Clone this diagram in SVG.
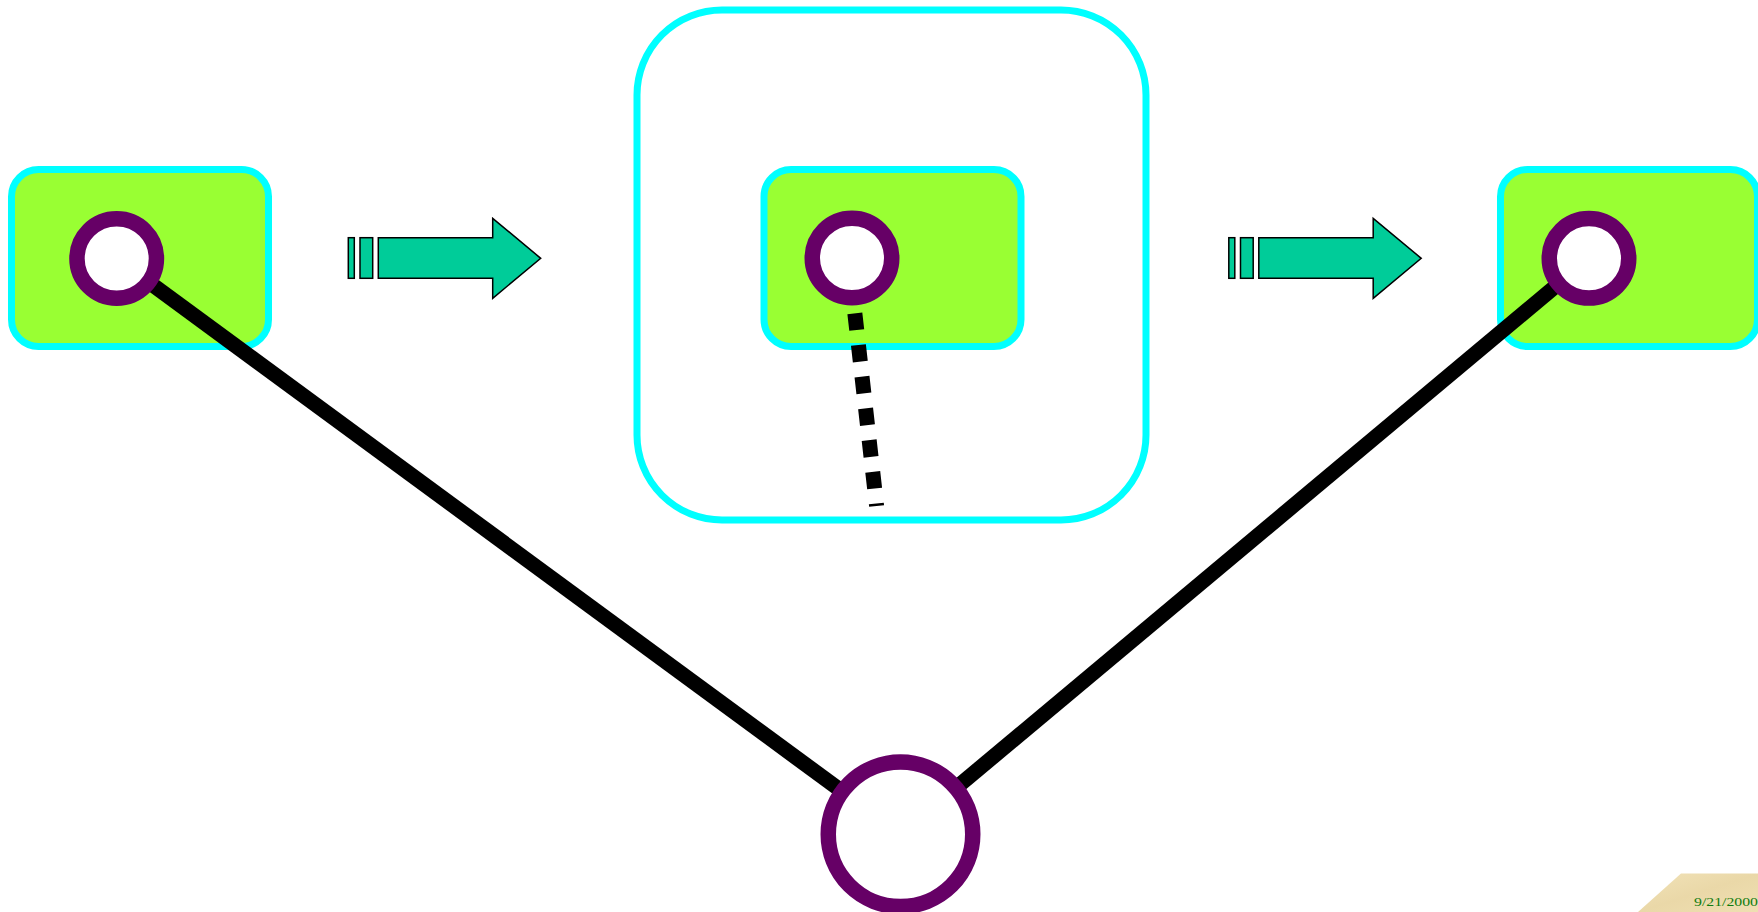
<svg xmlns="http://www.w3.org/2000/svg" width="1758" height="912" viewBox="0 0 1758 912">
  <style>
    .box { fill: #99FF33; stroke: #00FFFF; stroke-width: 7; }
    .frame { fill: #FFFFFF; stroke: #00FFFF; stroke-width: 7; }
    .port { fill: #FFFFFF; stroke: #660066; stroke-width: 15.5; }
    .link { stroke: #000000; stroke-width: 15; fill: none; }
    .dash { stroke: #000000; stroke-width: 15; fill: none; stroke-dasharray: 16.8 15.1; }
    .arrow { fill: #00CC99; stroke: #000000; stroke-width: 1.5; stroke-linejoin: miter; }
    .date { font-family: "Liberation Serif", "Times New Roman", serif; font-size: 13.5px; fill: #107C10; }
  </style>
  <defs>
    <linearGradient id="parchment" x1="0" y1="0" x2="1" y2="1">
      <stop offset="0" stop-color="#F1E2B8"/>
      <stop offset="0.5" stop-color="#EAD8A8"/>
      <stop offset="1" stop-color="#EFDFB2"/>
    </linearGradient>
    <g id="flow-arrow">
      <rect class="arrow" x="348.3" y="237.7" width="6" height="40.6"/>
      <rect class="arrow" x="360" y="237.7" width="12.7" height="40.6"/>
      <path class="arrow" d="M378.3,237.7 H492.7 V218.3 L540.7,258.3 L492.7,298.3 V278.3 H378.3 Z"/>
    </g>
  </defs>

  <rect width="1758" height="912" fill="#FFFFFF"/>

  <!-- container around the middle stage -->
  <g id="container">
    <rect class="frame" x="637" y="10" width="509" height="510" rx="85" ry="85"/>
  </g>

  <!-- stage boxes -->
  <g id="box-left">
    <rect class="box" x="11.5" y="169.5" width="257" height="177" rx="27" ry="27"/>
  </g>
  <g id="box-middle">
    <rect class="box" x="764" y="169.5" width="257" height="177" rx="27" ry="27"/>
  </g>
  <g id="box-right">
    <rect class="box" x="1500.5" y="169.5" width="257" height="177" rx="27" ry="27"/>
  </g>

  <!-- flow arrows between stages -->
  <g id="arrow-left">
    <use href="#flow-arrow"/>
  </g>
  <g id="arrow-right">
    <use href="#flow-arrow" transform="translate(880.5,0)"/>
  </g>

  <!-- connectors -->
  <g id="connectors">
    <line class="link" x1="116.7" y1="258.5" x2="900.5" y2="834.3"/>
    <line class="link" x1="1589" y1="258.3" x2="900.5" y2="834.3"/>
    <line class="dash" x1="854.85" y1="313.3" x2="876.6" y2="506"/>
  </g>

  <!-- ports -->
  <g id="port-left">
    <circle class="port" cx="116.7" cy="258.5" r="39.75"/>
  </g>
  <g id="port-middle">
    <circle class="port" cx="852" cy="258" r="39.75"/>
  </g>
  <g id="port-right">
    <circle class="port" cx="1589" cy="258.3" r="39.75"/>
  </g>
  <g id="port-bottom">
    <circle class="port" cx="900.5" cy="834.3" r="72.25"/>
  </g>

  <!-- footer date tab -->
  <g id="footer">
    <polygon points="1638,912 1681,873.5 1758,873.5 1758,912" fill="url(#parchment)"/>
    <text class="date" x="1694" y="906" textLength="64" lengthAdjust="spacingAndGlyphs">9/21/2000</text>
  </g>
</svg>
